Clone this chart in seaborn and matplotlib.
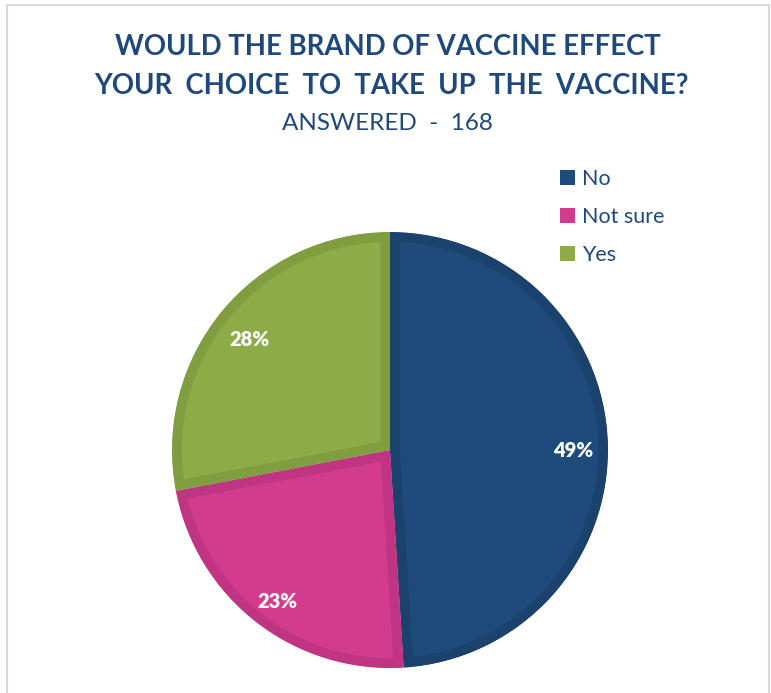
import matplotlib
matplotlib.use("Agg")
import matplotlib.pyplot as plt
import matplotlib.patches as mpatches
import seaborn as sns

# data
answers = ["No", "Not sure", "Yes"]
shares = [49, 23, 28]
face_colors = ["#1F4A7C", "#D33B8C", "#8DAC48"]
edge_colors = ["#1B416D", "#C03583", "#809D40"]

title_lines = ["WOULD THE BRAND OF VACCINE EFFECT",
               "YOUR  CHOICE  TO  TAKE  UP  THE  VACCINE?"]
subtitle = "ANSWERED  -  168"

sns.set_theme(style="white")
plt.rcParams["font.family"] = ["Lato", "DejaVu Sans"]
navy = "#1F497D"

fig = plt.figure(figsize=(7.71, 6.93), dpi=100)

# light frame round the chart area
fig.patches.append(mpatches.Rectangle((7 / 771, -0.05), 762 / 771, 1.05 - 5 / 693,
                                      transform=fig.transFigure, fill=False,
                                      edgecolor="#D9D9D9", lw=1.5))

ax = fig.add_axes([0.2231, 0.0361, 0.5655, 0.629])
wedges, _, autotexts = ax.pie(shares, colors=face_colors, startangle=90,
                              counterclock=False, autopct="%d%%", pctdistance=0.84,
                              textprops=dict(color="white", fontsize=14.5, fontweight="heavy"))
for w, ec in zip(wedges, edge_colors):
    w.set_edgecolor(ec)
    w.set_linewidth(14)
    w.set_clip_on(True)
    w.set_clip_path(w)
# nudge the percentages down a little, as in the original
for t in autotexts:
    x, y = t.get_position()
    t.set_position((x, y - 0.03))
ax.set_xlim(-1, 1)
ax.set_ylim(-1, 1)
ax.set_aspect("equal")
ax.axis("off")

fig.text(0.503, 1 - 47 / 693, title_lines[0], ha="center", va="center",
         fontsize=19.8, fontweight="bold", color=navy)
fig.text(0.507, 1 - 86 / 693, title_lines[1], ha="center", va="center",
         fontsize=19.8, fontweight="bold", color=navy)
fig.text(0.503, 1 - 124 / 693, subtitle, ha="center", va="center",
         fontsize=17.5, color=navy)

handles = [mpatches.Patch(facecolor=c, edgecolor="none") for c in face_colors]
leg = fig.legend(handles, answers, loc="upper left", bbox_to_anchor=(541 / 771, 1 - 150 / 693),
                 frameon=False, fontsize=15.5, handlelength=0.7, handleheight=0.7,
                 handletextpad=0.3, labelspacing=0.82)
for t in leg.get_texts():
    t.set_color(navy)

fig.savefig("out.png", dpi=100)
